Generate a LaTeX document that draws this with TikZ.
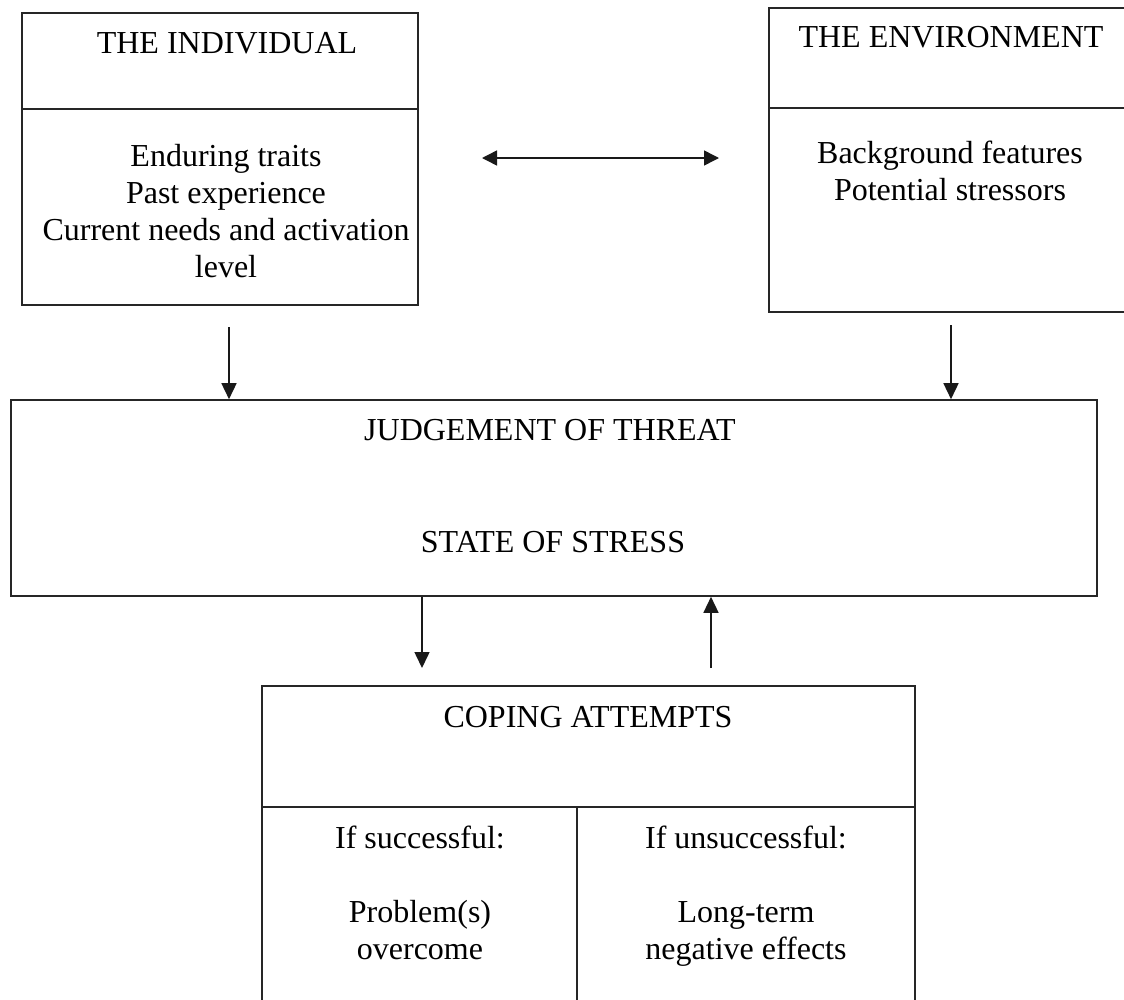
\documentclass[tikz,border=0pt]{standalone}
\usepackage{fontspec}
\setmainfont{Liberation Serif}
\usetikzlibrary{arrows.meta}
\begin{document}
\begin{tikzpicture}[x=1pt,y=-1pt,
  frame/.style={draw=black!85,line width=1.6pt,rectangle,inner sep=0pt},
  rule/.style={draw=black!85,line width=1.6pt},
  label/.style={inner sep=0pt,align=center,font=\fontsize{32}{37}\selectfont},
  arr/.style={draw=black!90,line width=1.5pt,-{Triangle[length=16pt,width=15pt]}},
  darr/.style={draw=black!90,line width=1.5pt,{Triangle[length=15pt,width=15pt]}-{Triangle[length=15pt,width=15pt]}}]
\useasboundingbox (0,0) rectangle (1124,999);

% boxes
\node[frame,minimum width=396pt,minimum height=292pt] (ind) at (220,159) {};
\node[frame,minimum width=371pt,minimum height=304pt] (env) at (954.5,160) {};
\node[frame,minimum width=1086pt,minimum height=196pt] (judge) at (554,498) {};
\node[frame,minimum width=653pt,minimum height=324pt] (cope) at (588.5,848) {};

% inner dividers
\draw[rule] (ind.west |- 0,109) -- (ind.east |- 0,109);
\draw[rule] (env.west |- 0,108) -- (env.east |- 0,108);
\draw[rule] (cope.west |- 0,807) -- (cope.east |- 0,807);
\coordinate (vd) at (577,807);
\draw[rule] (vd) -- (vd |- cope.south);

% texts
\node[label,anchor=base] (indT) at (227,53) {THE INDIVIDUAL};
\node[label,anchor=north] (indL) at (226,144) {Enduring traits\\Past experience\\Current needs and activation\\level};
\node[label,anchor=base] (envT) at (951,47) {THE ENVIRONMENT};
\node[label,anchor=north] (envL) at (950,141) {Background features\\Potential stressors};
\node[label,anchor=base] (judgeT) at (550,440) {JUDGEMENT OF THREAT};
\node[label,anchor=base] (stress) at (553,552) {STATE OF STRESS};
\node[label,anchor=base] (copeT) at (588,727) {COPING ATTEMPTS};
\node[label,anchor=north] (succ) at (420,826) {If successful:\\[37pt]Problem(s)\\overcome};
\node[label,anchor=north] (fail) at (746,826) {If unsuccessful:\\[37pt]Long-term\\negative effects};

% connectors
\coordinate (d1) at (482,158);
\coordinate (d2) at (719,158);
\draw[darr] (d1) -- (d2);
\coordinate (a1) at (229,327);
\draw[arr] (a1) -- (a1 |- judge.north);
\coordinate (a2) at (951,325);
\draw[arr] (a2) -- (a2 |- judge.north);
\coordinate (b1) at (422,668);
\draw[arr] (b1 |- judge.south) -- (b1);
\coordinate (b2) at (711,668);
\draw[arr] (b2) -- (b2 |- judge.south);
\end{tikzpicture}
\end{document}
